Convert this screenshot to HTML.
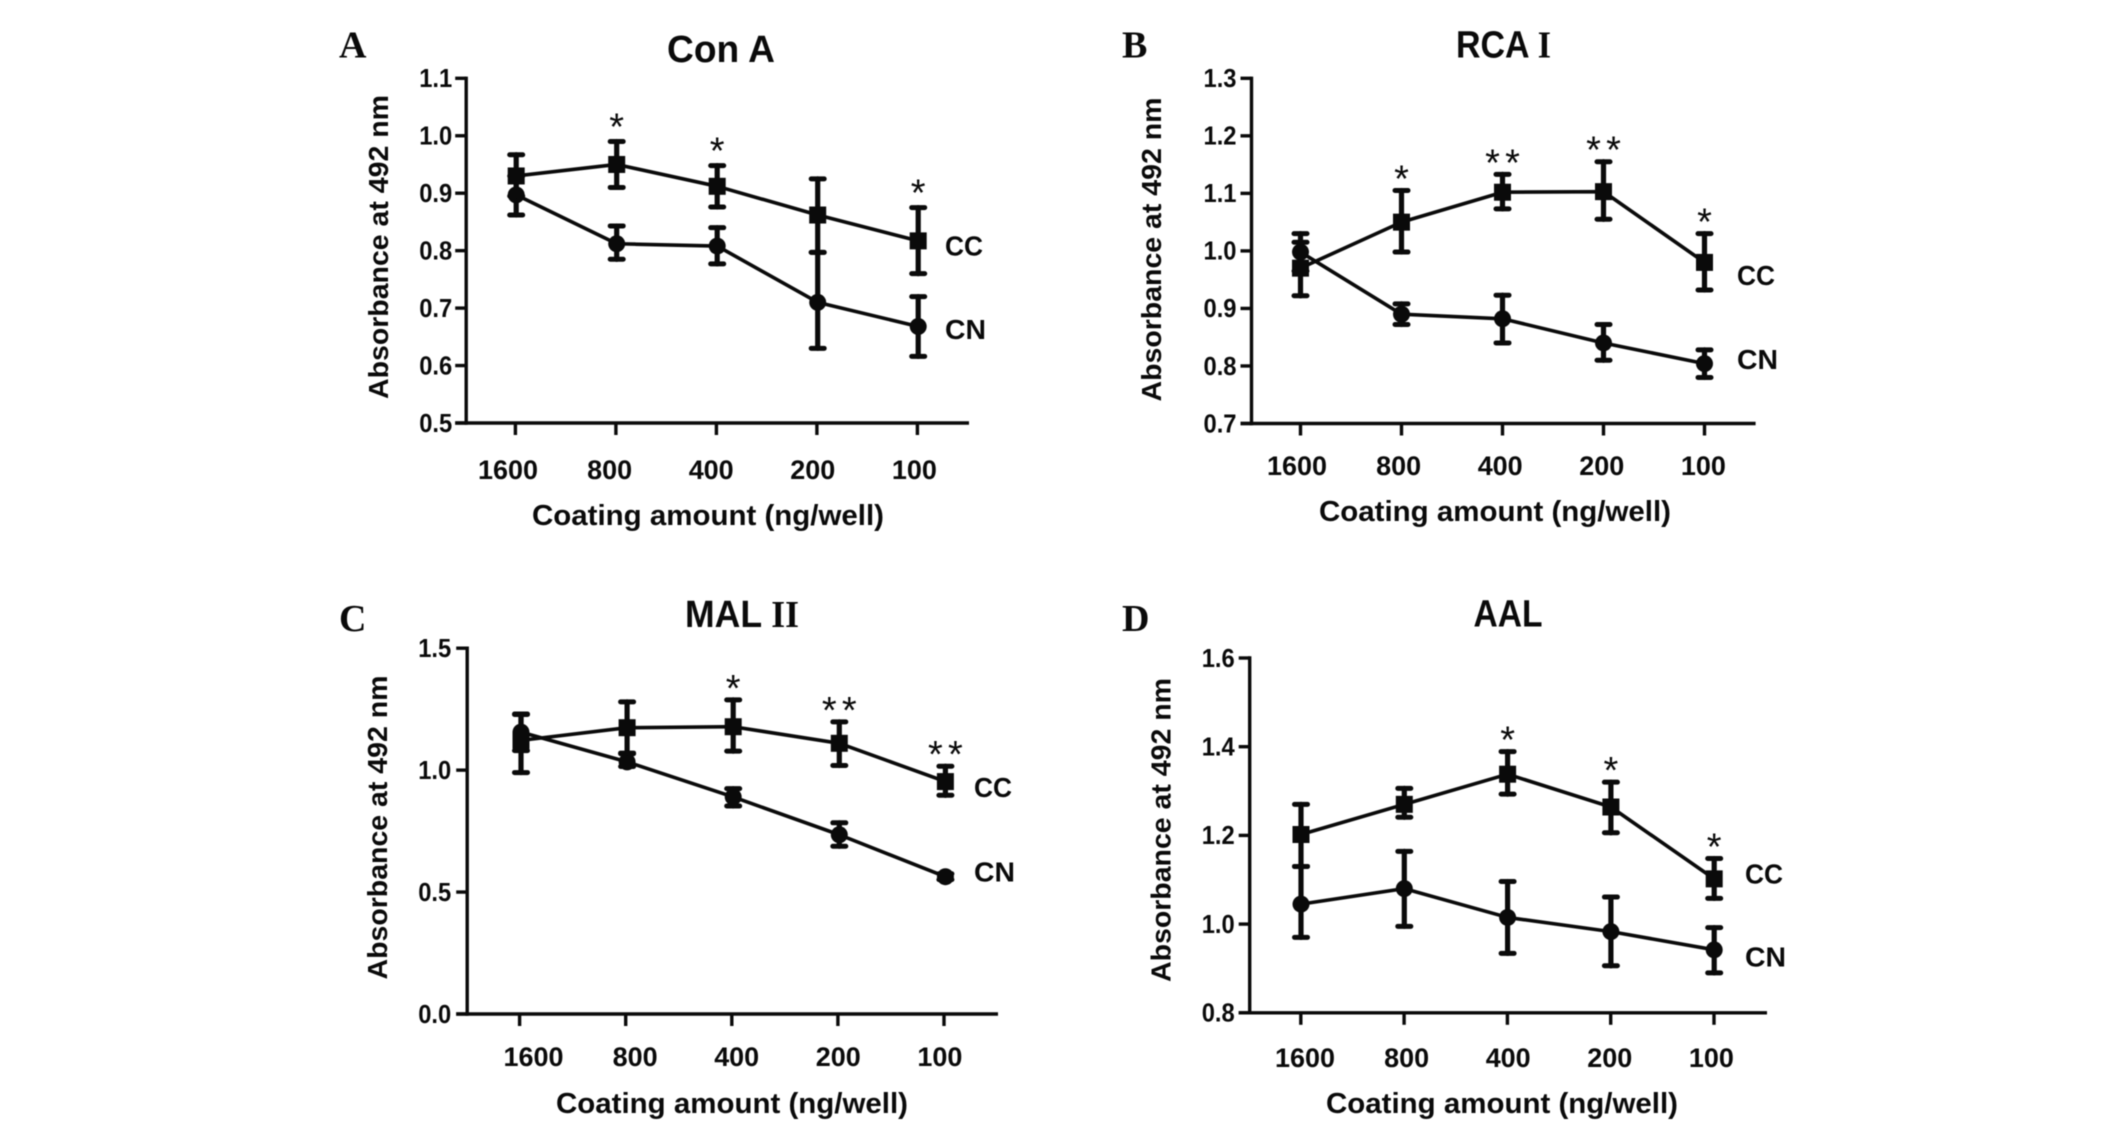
<!DOCTYPE html>
<html lang="en">
<head>
<meta charset="utf-8">
<title>Lectin absorbance panels</title>
<style>
html,body{margin:0;padding:0;background:#fff;width:2126px;height:1130px;overflow:hidden}
svg{display:block}
text{font-family:"Liberation Sans",sans-serif;font-weight:bold;fill:#0a0a0a}
#root{filter:blur(0.5px)}
</style>
</head>
<body>
<svg id="figure" xmlns="http://www.w3.org/2000/svg" width="2126" height="1130" viewBox="0 0 2126 1130">
<g id="root"></g>
</svg>
<script>
const categories = ["1600", "800", "400", "200", "100"];

const ticksA = ["0.5", "0.6", "0.7", "0.8", "0.9", "1.0", "1.1"];
const ccA = [0.930, 0.950, 0.912, 0.862, 0.817];
const ccUpperA = [0.967, 0.990, 0.948, 0.925, 0.875];
const ccLowerA = [0.895, 0.910, 0.876, 0.797, 0.760];
const cnA = [0.897, 0.812, 0.808, 0.710, 0.668];
const cnUpperA = [0.930, 0.843, 0.840, 0.797, 0.720];
const cnLowerA = [0.862, 0.785, 0.777, 0.630, 0.616];
const sigA = ["", "*", "*", "", "*"];

const ticksB = ["0.7", "0.8", "0.9", "1.0", "1.1", "1.2", "1.3"];
const ccB = [0.970, 1.050, 1.102, 1.103, 0.980];
const ccUpperB = [1.015, 1.105, 1.133, 1.155, 1.030];
const ccLowerB = [0.922, 0.998, 1.073, 1.055, 0.932];
const cnB = [0.998, 0.890, 0.882, 0.840, 0.804];
const cnUpperB = [1.030, 0.908, 0.923, 0.872, 0.828];
const cnLowerB = [0.965, 0.872, 0.840, 0.810, 0.780];
const sigB = ["", "*", "**", "**", "*"];

const ticksC = ["0.0", "0.5", "1.0", "1.5"];
const ccC = [1.122, 1.174, 1.178, 1.110, 0.953];
const ccUpperC = [1.228, 1.280, 1.288, 1.198, 1.016];
const ccLowerC = [0.990, 1.070, 1.078, 1.019, 0.897];
const cnC = [1.156, 1.034, 0.890, 0.735, 0.563];
const cnUpperC = [1.230, 1.067, 0.924, 0.784, 0.575];
const cnLowerC = [1.080, 1.015, 0.853, 0.688, 0.551];
const sigC = ["", "", "*", "**", "**"];

const ticksD = ["0.8", "1.0", "1.2", "1.4", "1.6"];
const ccD = [1.202, 1.270, 1.338, 1.264, 1.102];
const ccUpperD = [1.270, 1.306, 1.389, 1.320, 1.148];
const ccLowerD = [1.130, 1.241, 1.293, 1.206, 1.058];
const cnD = [1.045, 1.080, 1.015, 0.983, 0.942];
const cnUpperD = [1.130, 1.164, 1.096, 1.061, 0.992];
const cnLowerD = [0.970, 0.995, 0.934, 0.906, 0.890];
const sigD = ["", "", "*", "*", "*"];

const NS = "http://www.w3.org/2000/svg";
const root = document.getElementById("root");

function shape(parent, tag, name, attrs) {
  const el = document.createElementNS(NS, tag);
  for (const k in attrs) el.setAttribute(k, attrs[k]);
  
  
  parent.appendChild(el);
  return el;
}
function label(parent, name, str, x, y, size, width, anchor, extra) {
  const attrs = {x: x, y: y, "font-size": size, "text-anchor": anchor || "start"};
  if (width) { attrs.textLength = width; attrs.lengthAdjust = "spacingAndGlyphs"; }
  Object.assign(attrs, extra || {});
  const el = shape(parent, "text", name, attrs);
  el.textContent = str;
  return el;
}

function drawPanel(p) {
  const g = shape(root, "g", "panel-" + p.letter.toLowerCase(), {});
  const yMin = parseFloat(p.ticks[0]);
  const yMax = parseFloat(p.ticks[p.ticks.length - 1]);
  const sy = v => p.yBottom + (v - yMin) / (yMax - yMin) * (p.yTop - p.yBottom);
  const sx = i => p.x0 + i * p.dx;

  label(g, "panel-letter", p.letter, p.letterX, p.letterY, 38, 0, "start",
    {style: 'font-family:"Liberation Serif",serif'});

  const title = label(g, "chart-title", p.title, p.titleX, p.titleY, 38, p.titleW, "start");
  if (p.titleSerif) {
    const t = document.createElementNS(NS, "tspan");
    t.setAttribute("style", 'font-family:"Liberation Serif",serif');
    t.textContent = p.titleSerif;
    
    
    title.appendChild(t);
  }

  const axisStyle = {stroke: "#0a0a0a", "stroke-width": 3.4, fill: "none"};
  shape(g, "line", "y-axis", Object.assign({x1: p.axisX, x2: p.axisX, y1: p.yTop - 1.7, y2: p.yBottom + 1.7}, axisStyle));
  shape(g, "line", "x-axis", Object.assign({x1: p.axisX - 11, x2: p.axisEnd, y1: p.yBottom, y2: p.yBottom}, axisStyle));

  p.ticks.forEach(t => {
    const y = sy(parseFloat(t));
    shape(g, "line", "y-tick-" + t, Object.assign({x1: p.axisX - 11, x2: p.axisX, y1: y, y2: y}, axisStyle));
    label(g, "y-tick-label-" + t, t, p.axisX - p.tickGap, y + 8.8, 26, 33, "end");
  });

  categories.forEach((c, i) => {
    shape(g, "line", "x-tick-" + c, Object.assign({x1: p.tick0 + i * p.dx, x2: p.tick0 + i * p.dx, y1: p.yBottom, y2: p.yBottom + 12}, axisStyle));
    label(g, "x-tick-label-" + c, c, p.labelX0 + i * 101.6, p.labelY, 27, c.length * 15, "middle");
  });

  label(g, "x-axis-title", "Coating amount (ng/well)", p.xTitleX, p.xTitleY, 29, 352, "start");
  label(g, "y-axis-title", "Absorbance at 492 nm", p.yTitleX, p.yTitleY, 28, 304, "middle",
    {transform: "rotate(-90 " + p.yTitleX + " " + p.yTitleY + ")"});

  drawSeries(g, "cn", p.cn, p.cnUpper, p.cnLower, sx, sy, false);
  drawSeries(g, "cc", p.cc, p.ccUpper, p.ccLower, sx, sy, true);

  p.sig.forEach((s, i) => {
    if (!s) return;
    const cy = sy(p.ccUpper[i]) - p.sigGap;
    const stars = s.length;
    for (let k = 0; k < stars; k++) {
      const cx = sx(i) + (k - (stars - 1) / 2) * 20;
      label(g, "significance-marker", "*", cx, cy + 22, 38, 0, "middle", {style: "font-weight:normal"});
    }
  });

  label(g, "series-label-cc", "CC", p.seriesX, p.ccLabelY, 28, 38, "start");
  label(g, "series-label-cn", "CN", p.seriesX, p.cnLabelY, 28, 41, "start");
}

function drawSeries(g, key, vals, upper, lower, sx, sy, square) {
  const s = shape(g, "g", "series-" + key, {});
  const pts = vals.map((v, i) => sx(i) + "," + sy(v)).join(" ");
  shape(s, "polyline", key + "-line", {points: pts, fill: "none", stroke: "#0a0a0a", "stroke-width": 3.6, "stroke-linejoin": "round"});
  vals.forEach((v, i) => {
    const x = sx(i), yu = sy(upper[i]), yl = sy(lower[i]), y = sy(v);
    const bar = {stroke: "#0a0a0a", "stroke-linecap": "round"};
    shape(s, "line", key + "-error-stem", Object.assign({x1: x, x2: x, y1: yu, y2: yl, "stroke-width": 5.2}, bar));
    shape(s, "line", key + "-error-cap-upper", Object.assign({x1: x - 6.5, x2: x + 6.5, y1: yu, y2: yu, "stroke-width": 5}, bar));
    shape(s, "line", key + "-error-cap-lower", Object.assign({x1: x - 6.5, x2: x + 6.5, y1: yl, y2: yl, "stroke-width": 5}, bar));
    if (square) {
      shape(s, "rect", key + "-point", {x: x - 8.5, y: y - 8.5, width: 17, height: 17, fill: "#0a0a0a"});
    } else {
      shape(s, "circle", key + "-point", {cx: x, cy: y, r: 8.5, fill: "#0a0a0a"});
    }
  });
}

drawPanel({letter: "A", letterX: 339, letterY: 57.5,
  title: "Con A", titleSerif: "", titleX: 667, titleY: 62, titleW: 108,
  ticks: ticksA, cc: ccA, ccUpper: ccUpperA, ccLower: ccLowerA, cn: cnA, cnUpper: cnUpperA, cnLower: cnLowerA, sig: sigA, sigGap: 24,
  axisX: 466.2, axisEnd: 969, yTop: 78.3, yBottom: 423, x0: 516.2, tick0: 515.4, dx: 100.5, tickGap: 14,
  labelX0: 508, labelY: 479, xTitleX: 532, xTitleY: 525, yTitleX: 388, yTitleY: 247,
  seriesX: 945, ccLabelY: 255.5, cnLabelY: 339});

drawPanel({letter: "B", letterX: 1122, letterY: 57.5,
  title: "RCA ", titleSerif: "I", titleX: 1456, titleY: 57.5, titleW: 95,
  ticks: ticksB, cc: ccB, ccUpper: ccUpperB, ccLower: ccLowerB, cn: cnB, cnUpper: cnUpperB, cnLower: cnLowerB, sig: sigB, sigGap: 21,
  axisX: 1251.5, axisEnd: 1755.6, yTop: 78.3, yBottom: 423.5, x0: 1300.5, tick0: 1300.5, dx: 101, tickGap: 15,
  labelX0: 1297, labelY: 475, xTitleX: 1319, xTitleY: 521, yTitleX: 1161, yTitleY: 249.5,
  seriesX: 1737, ccLabelY: 285, cnLabelY: 369});

drawPanel({letter: "C", letterX: 339, letterY: 631,
  title: "MAL ", titleSerif: "II", titleX: 685, titleY: 627, titleW: 114,
  ticks: ticksC, cc: ccC, ccUpper: ccUpperC, ccLower: ccLowerC, cn: cnC, cnUpper: cnUpperC, cnLower: cnLowerC, sig: sigC, sigGap: 21,
  axisX: 467.2, axisEnd: 998, yTop: 648.2, yBottom: 1014, x0: 521, tick0: 519.6, dx: 106.1, tickGap: 16,
  labelX0: 533.5, labelY: 1066, xTitleX: 556, xTitleY: 1113, yTitleX: 387, yTitleY: 827.5,
  seriesX: 974, ccLabelY: 797, cnLabelY: 881.5});

drawPanel({letter: "D", letterX: 1122, letterY: 631,
  title: "AAL", titleSerif: "", titleX: 1473.5, titleY: 626.5, titleW: 69,
  ticks: ticksD, cc: ccD, ccUpper: ccUpperD, ccLower: ccLowerD, cn: cnD, cnUpper: cnUpperD, cnLower: cnLowerD, sig: sigD, sigGap: 21,
  axisX: 1249.7, axisEnd: 1767, yTop: 658, yBottom: 1012.8, x0: 1301, tick0: 1300.8, dx: 103.3, tickGap: 15,
  labelX0: 1305, labelY: 1067, xTitleX: 1326, xTitleY: 1113, yTitleX: 1170.5, yTitleY: 830,
  seriesX: 1745, ccLabelY: 883.5, cnLabelY: 966.5});
</script>
</body>
</html>
